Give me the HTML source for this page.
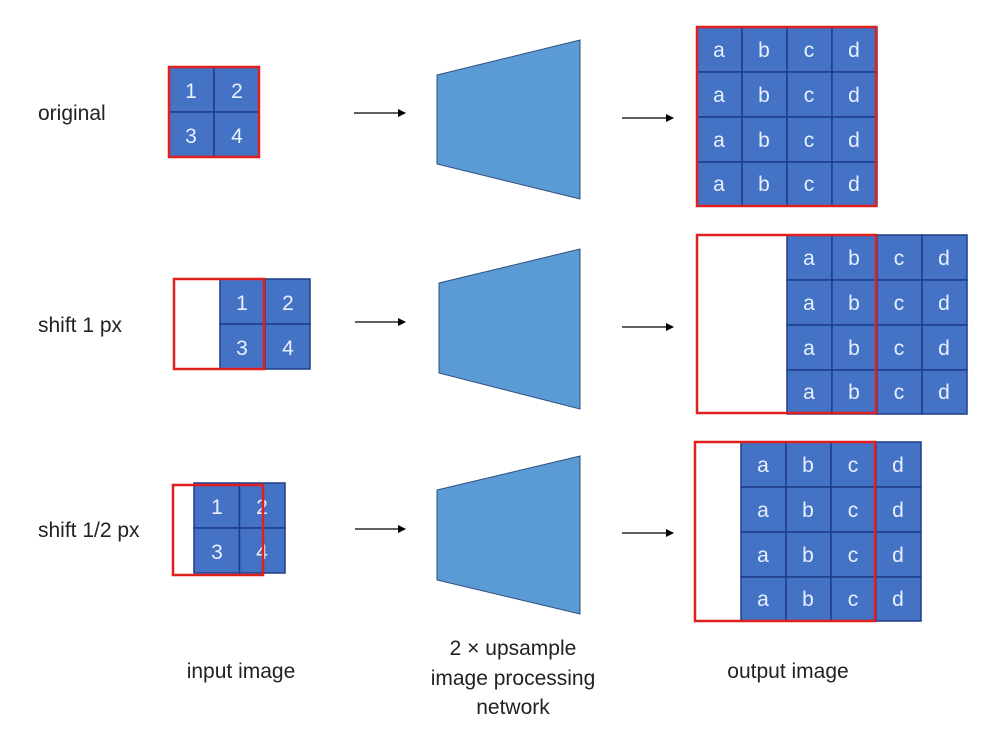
<!DOCTYPE html>
<html><head><meta charset="utf-8"><style>
html,body{margin:0;padding:0;background:#fff;}
svg{display:block;}
text{font-family:"Liberation Sans","DejaVu Sans",sans-serif;}
</style></head><body>
<svg width="988" height="735" viewBox="0 0 988 735" xmlns="http://www.w3.org/2000/svg">
<defs>
<marker id="ah" markerWidth="8" markerHeight="8" refX="7" refY="4" orient="auto" markerUnits="userSpaceOnUse">
<path d="M0,0 L8,4 L0,8 Z" fill="#000"/></marker>
<g id="big">
<g stroke="#1F3C88" stroke-width="1.5" fill="#4472C4">
<rect x="0" y="0" width="45" height="45"/><rect x="45" y="0" width="45" height="45"/><rect x="90" y="0" width="45" height="45"/><rect x="135" y="0" width="45" height="45"/>
<rect x="0" y="45" width="45" height="45"/><rect x="45" y="45" width="45" height="45"/><rect x="90" y="45" width="45" height="45"/><rect x="135" y="45" width="45" height="45"/>
<rect x="0" y="90" width="45" height="45"/><rect x="45" y="90" width="45" height="45"/><rect x="90" y="90" width="45" height="45"/><rect x="135" y="90" width="45" height="45"/>
<rect x="0" y="135" width="45" height="44"/><rect x="45" y="135" width="45" height="44"/><rect x="90" y="135" width="45" height="44"/><rect x="135" y="135" width="45" height="44"/>
</g>
<g font-size="21" fill="#E8F0FF" text-anchor="middle">
<text x="22" y="30">a</text><text x="67" y="30">b</text><text x="112" y="30">c</text><text x="157" y="30">d</text>
<text x="22" y="75">a</text><text x="67" y="75">b</text><text x="112" y="75">c</text><text x="157" y="75">d</text>
<text x="22" y="120">a</text><text x="67" y="120">b</text><text x="112" y="120">c</text><text x="157" y="120">d</text>
<text x="22" y="164">a</text><text x="67" y="164">b</text><text x="112" y="164">c</text><text x="157" y="164">d</text>
</g>
</g>
</defs>
<g font-size="21" fill="#222">
<text x="38" y="120">original</text>
<text x="38" y="332">shift 1 px</text>
<text x="38" y="537">shift 1/2 px</text>
<text x="241" y="678" text-anchor="middle">input image</text>
<text x="788" y="678" text-anchor="middle">output image</text>
<text x="513" y="655" text-anchor="middle">2 × upsample</text>
<text x="513" y="685" text-anchor="middle">image processing</text>
<text x="513" y="714" text-anchor="middle">network</text>
</g>
<g fill="#5B9BD5" stroke="#2F4F7F" stroke-width="1">
<polygon points="437,75 580,40 580,199 437,164"/>
<polygon points="439,283 580,249 580,409 439,373"/>
<polygon points="437,490 580,456 580,614 437,580"/>
</g>
<g stroke="#000" stroke-width="1.2" marker-end="url(#ah)">
<line x1="354" y1="113" x2="405" y2="113"/>
<line x1="622" y1="118" x2="673" y2="118"/>
<line x1="355" y1="322" x2="405" y2="322"/>
<line x1="622" y1="327" x2="673" y2="327"/>
<line x1="355" y1="529" x2="405" y2="529"/>
<line x1="622" y1="533" x2="673" y2="533"/>
</g>
<g stroke="#1F3C88" stroke-width="1.5" fill="#4472C4">
<rect x="169" y="67" width="45" height="45"/><rect x="214" y="67" width="45" height="45"/>
<rect x="169" y="112" width="45" height="45"/><rect x="214" y="112" width="45" height="45"/>
<rect x="220" y="279" width="45" height="45"/><rect x="265" y="279" width="45" height="45"/>
<rect x="220" y="324" width="45" height="45"/><rect x="265" y="324" width="45" height="45"/>
<rect x="194" y="483" width="45.5" height="45"/><rect x="239.5" y="483" width="45.5" height="45"/>
<rect x="194" y="528" width="45.5" height="45"/><rect x="239.5" y="528" width="45.5" height="45"/>
</g>
<g font-size="21" fill="#E8F0FF" text-anchor="middle">
<text x="191" y="98">1</text><text x="237" y="98">2</text><text x="191" y="143">3</text><text x="237" y="143">4</text>
<text x="242" y="310">1</text><text x="288" y="310">2</text><text x="242" y="355">3</text><text x="288" y="355">4</text>
<text x="217" y="514">1</text><text x="262" y="514">2</text><text x="217" y="559">3</text><text x="262" y="559">4</text>
</g>
<use href="#big" transform="translate(697,27)"/>
<use href="#big" transform="translate(787,235)"/>
<use href="#big" transform="translate(741,442)"/>
<g fill="none" stroke="#E0201F" stroke-width="2.5">
<rect x="169" y="67" width="90" height="90"/>
<rect x="174" y="279" width="90" height="90"/>
<rect x="173" y="485" width="90" height="90"/>
<rect x="697" y="27" width="179" height="179"/>
<rect x="697" y="235" width="179" height="178"/>
<rect x="695" y="442" width="180" height="179"/>
</g>
</svg>
</body></html>
